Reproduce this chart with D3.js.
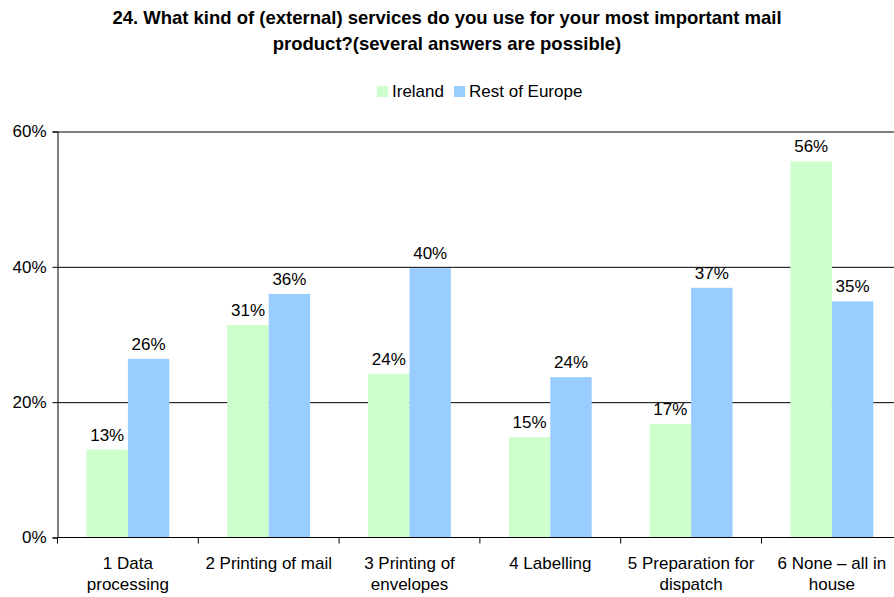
<!DOCTYPE html>
<html>
<head>
<meta charset="utf-8">
<script src="https://cdn.jsdelivr.net/npm/d3@7"></script>
<style>
  body { margin: 0; background: #fff; }
  svg { display: block; font-family: "Liberation Sans", Arial, sans-serif; }
</style>
</head>
<body>
<div class="chart"></div>
<script>
// data
var categories = ["1 Data processing", "2 Printing of mail", "3 Printing of envelopes",
                  "4 Labelling", "5 Preparation for dispatch", "6 None \u2013 all in house"];
var catLines = [["1 Data", "processing"], ["2 Printing of mail"], ["3 Printing of", "envelopes"],
                ["4 Labelling"], ["5 Preparation for", "dispatch"], ["6 None \u2013 all in", "house"]];
var seriesNames = ["Ireland", "Rest of Europe"];
var ireland = [13.0, 31.4, 24.2, 14.8, 16.8, 55.6];
var restOfEurope = [26.4, 36.0, 39.8, 23.7, 36.9, 34.9];
var yTicks = [0, 20, 40, 60];
var colors = ["#ccffcc", "#99ccff"];

var width = 894, height = 597;
var margin = { top: 131.5, left: 57.5, bottom: 59.5 },
    plotW = 6 * 140.8,
    h = height - margin.top - margin.bottom;
var fs = "17px";

var svg = d3.select(".chart")
    .append("svg")
    .attr("width", width)
    .attr("height", height);

// title
var title = svg.append("text")
    .attr("text-anchor", "middle")
    .style("font-size", "18.5px")
    .style("font-weight", "bold")
    .attr("fill", "#000");
title.append("tspan").attr("x", 447).attr("y", 24)
    .text("24. What kind of (external) services do you use for your most important mail");
title.append("tspan").attr("x", 447).attr("y", 50)
    .text("product?(several answers are possible)");

var g = svg.append("g")
    .attr("transform", "translate(" + margin.left + "," + margin.top + ")");

var x = d3.scaleBand()
    .domain(categories)
    .range([0, plotW])
    .paddingInner(0)
    .paddingOuter(0);

var x1 = d3.scaleBand()
    .domain(seriesNames)
    .range([29, x.bandwidth() - 29]);

var y = d3.scaleLinear()
    .domain([0, 60])
    .range([h, 0]);

// gridlines
g.append("g")
    .attr("class", "grid")
    .call(d3.axisLeft(y).tickValues(yTicks.slice(1)).tickSize(-plotW).tickFormat(""))
    .call(function(s) {
        s.select(".domain").remove();
        s.selectAll("line").attr("stroke", "#000");
    });

// bars
var data = categories.map(function(c, i) {
    return { cat: c, vals: [ireland[i], restOfEurope[i]] };
});

var groups = g.selectAll(".group")
    .data(data)
    .enter()
    .append("g")
    .attr("transform", function(d) { return "translate(" + x(d.cat) + ",0)"; });

groups.selectAll("rect")
    .data(function(d) { return d.vals.map(function(v, j) { return { s: seriesNames[j], v: v, j: j }; }); })
    .enter()
    .append("rect")
    .attr("x", function(d) { return x1(d.s); })
    .attr("width", x1.bandwidth())
    .attr("y", function(d) { return y(d.v); })
    .attr("height", function(d) { return h - y(d.v); })
    .attr("fill", function(d) { return colors[d.j]; });

groups.selectAll(".val")
    .data(function(d) { return d.vals.map(function(v, j) { return { s: seriesNames[j], v: v }; }); })
    .enter()
    .append("text")
    .attr("class", "val")
    .attr("x", function(d) { return x1(d.s) + x1.bandwidth() / 2; })
    .attr("y", function(d) { return y(d.v) - 9; })
    .attr("text-anchor", "middle")
    .style("font-size", fs)
    .attr("fill", "#000")
    .text(function(d) { return Math.round(d.v) + "%"; });

// y axis
g.append("g")
    .call(d3.axisLeft(y).tickValues(yTicks).tickSize(5).tickPadding(6)
        .tickFormat(function(d) { return d + "%"; }))
    .call(function(s) {
        s.selectAll("line, path").attr("stroke", "#000");
        s.selectAll("text").style("font-size", fs).attr("fill", "#000")
            .style("font-family", "'Liberation Sans', Arial, sans-serif");
    });

// x axis: ticks at category boundaries
var xb = g.append("g")
    .attr("transform", "translate(0," + h + ")");
xb.append("line")
    .attr("x1", 0).attr("x2", plotW)
    .attr("stroke", "#000");
xb.selectAll(".tk")
    .data(d3.range(categories.length + 1))
    .enter()
    .append("line")
    .attr("x1", function(k) { return k * x.bandwidth(); })
    .attr("x2", function(k) { return k * x.bandwidth(); })
    .attr("y1", 0).attr("y2", 6)
    .attr("stroke", "#000");

var lab = xb.selectAll(".cat")
    .data(categories)
    .enter()
    .append("text")
    .attr("text-anchor", "middle")
    .style("font-size", fs)
    .attr("fill", "#000");
lab.each(function(c, i) {
    var t = d3.select(this);
    catLines[i].forEach(function(line, k) {
        t.append("tspan")
            .attr("x", x(c) + x.bandwidth() / 2)
            .attr("y", 31 + k * 21)
            .text(line);
    });
});

// legend
var legend = svg.append("g");
var legendX = [377, 454];
seriesNames.forEach(function(name, i) {
    legend.append("rect")
        .attr("x", legendX[i]).attr("y", 86)
        .attr("width", 11).attr("height", 11)
        .attr("fill", colors[i]);
    legend.append("text")
        .attr("x", legendX[i] + 15).attr("y", 97)
        .style("font-size", fs)
        .attr("fill", "#000")
        .text(name);
});
</script>
</body>
</html>
